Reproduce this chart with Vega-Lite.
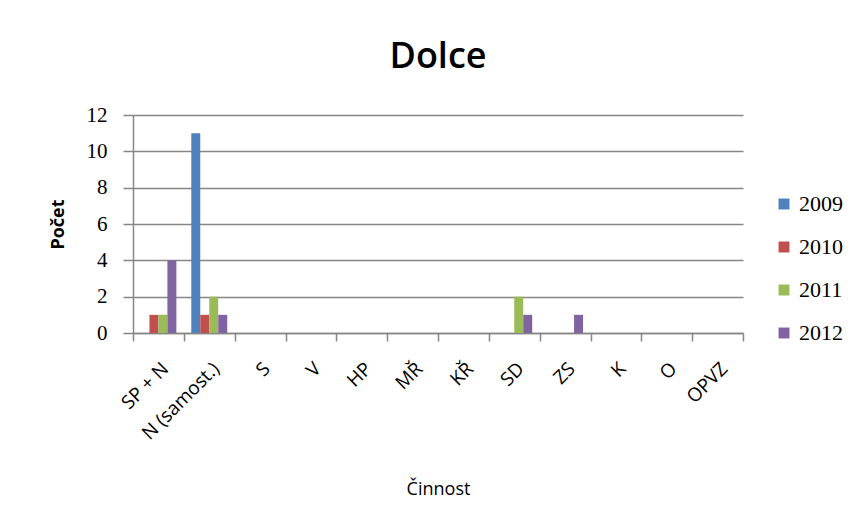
{
  "$schema": "https://vega.github.io/schema/vega-lite/v6.json",
  "width": 610,
  "height": 218,
  "autosize": "none",
  "padding": {"left": 133, "top": 115, "right": 120, "bottom": 191},
  "background": "white",
  "title": {"text": "Dolce", "font": "Open Sans", "fontSize": 36, "fontWeight": 600, "color": "#000000", "offset": 28, "anchor": "middle"},
  "data": {"values": [
    {"cat": "SP + N", "year": "2009", "value": 0},
    {"cat": "SP + N", "year": "2010", "value": 1},
    {"cat": "SP + N", "year": "2011", "value": 1},
    {"cat": "SP + N", "year": "2012", "value": 4},
    {"cat": "N (samost.)", "year": "2009", "value": 11},
    {"cat": "N (samost.)", "year": "2010", "value": 1},
    {"cat": "N (samost.)", "year": "2011", "value": 2},
    {"cat": "N (samost.)", "year": "2012", "value": 1},
    {"cat": "S", "year": "2009", "value": 0},
    {"cat": "S", "year": "2010", "value": 0},
    {"cat": "S", "year": "2011", "value": 0},
    {"cat": "S", "year": "2012", "value": 0},
    {"cat": "V", "year": "2009", "value": 0},
    {"cat": "V", "year": "2010", "value": 0},
    {"cat": "V", "year": "2011", "value": 0},
    {"cat": "V", "year": "2012", "value": 0},
    {"cat": "HP", "year": "2009", "value": 0},
    {"cat": "HP", "year": "2010", "value": 0},
    {"cat": "HP", "year": "2011", "value": 0},
    {"cat": "HP", "year": "2012", "value": 0},
    {"cat": "MŘ", "year": "2009", "value": 0},
    {"cat": "MŘ", "year": "2010", "value": 0},
    {"cat": "MŘ", "year": "2011", "value": 0},
    {"cat": "MŘ", "year": "2012", "value": 0},
    {"cat": "KŘ", "year": "2009", "value": 0},
    {"cat": "KŘ", "year": "2010", "value": 0},
    {"cat": "KŘ", "year": "2011", "value": 0},
    {"cat": "KŘ", "year": "2012", "value": 0},
    {"cat": "SD", "year": "2009", "value": 0},
    {"cat": "SD", "year": "2010", "value": 0},
    {"cat": "SD", "year": "2011", "value": 2},
    {"cat": "SD", "year": "2012", "value": 1},
    {"cat": "ZS", "year": "2009", "value": 0},
    {"cat": "ZS", "year": "2010", "value": 0},
    {"cat": "ZS", "year": "2011", "value": 0},
    {"cat": "ZS", "year": "2012", "value": 1},
    {"cat": "K", "year": "2009", "value": 0},
    {"cat": "K", "year": "2010", "value": 0},
    {"cat": "K", "year": "2011", "value": 0},
    {"cat": "K", "year": "2012", "value": 0},
    {"cat": "O", "year": "2009", "value": 0},
    {"cat": "O", "year": "2010", "value": 0},
    {"cat": "O", "year": "2011", "value": 0},
    {"cat": "O", "year": "2012", "value": 0},
    {"cat": "OPVZ", "year": "2009", "value": 0},
    {"cat": "OPVZ", "year": "2010", "value": 0},
    {"cat": "OPVZ", "year": "2011", "value": 0},
    {"cat": "OPVZ", "year": "2012", "value": 0}
  ]},
  "mark": {"type": "bar"},
  "encoding": {
    "x": {
      "field": "cat", "type": "nominal", "sort": null,
      "scale": {"paddingInner": 0, "paddingOuter": 0},
      "axis": {
        "title": "Činnost", "titleFont": "Open Sans", "titleFontSize": 18, "titleFontWeight": "normal", "titleColor": "#000000",
        "titleY": 147, "titleBaseline": "top",
        "labelAngle": -45, "labelFont": "Open Sans", "labelFontSize": 19, "labelColor": "#000000", "labelPadding": 18,
        "tickBand": "extent", "tickSize": 8, "tickColor": "#868686", "tickWidth": 1.5,
        "domainColor": "#868686", "domainWidth": 1.5, "grid": false
      }
    },
    "xOffset": {"field": "year", "type": "nominal", "scale": {"paddingInner": 0, "paddingOuter": 0.83}},
    "y": {
      "field": "value", "type": "quantitative",
      "scale": {"domain": [0, 12]},
      "axis": {
        "title": "Počet", "titleFont": "Open Sans", "titleFontSize": 18, "titleFontWeight": "bold", "titleColor": "#000000",
        "titleX": -66, "titleY": 109,
        "values": [0, 2, 4, 6, 8, 10, 12],
        "labelFont": "Liberation Serif", "labelFontSize": 21, "labelColor": "#000000", "labelPadding": 16,
        "tickSize": 10, "tickColor": "#868686", "tickWidth": 1.5,
        "gridColor": "#868686", "gridWidth": 1.5,
        "domainColor": "#868686", "domainWidth": 1.5
      }
    },
    "color": {
      "field": "year", "type": "nominal",
      "scale": {"domain": ["2009", "2010", "2011", "2012"], "range": ["#4F81BD", "#C0504D", "#9BBB59", "#8064A2"]},
      "legend": {
        "title": null, "orient": "none", "legendX": 640, "legendY": 78,
        "symbolType": "square", "symbolSize": 120, "symbolStrokeWidth": 0,
        "labelFont": "Liberation Serif", "labelFontSize": 22, "labelColor": "#000000",
        "rowPadding": 21, "labelOffset": 4
      }
    }
  },
  "config": {"view": {"stroke": null}}
}
